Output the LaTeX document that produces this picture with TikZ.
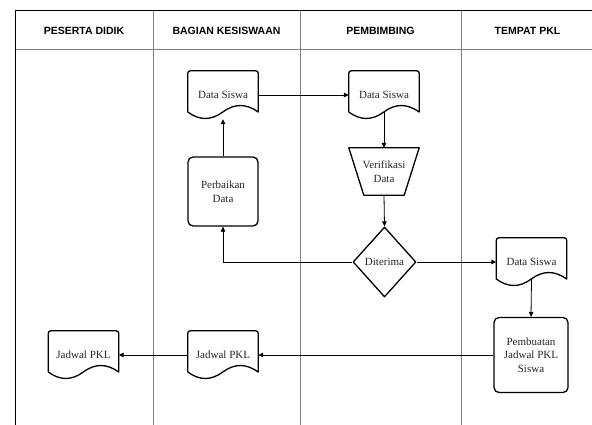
\documentclass[tikz,border=0pt]{standalone}
\usepackage{fontspec}
\setmainfont{Liberation Serif}
\newfontfamily\hdrfont{Liberation Sans}
\usetikzlibrary{arrows.meta,shapes.geometric,calc}

\newcommand\docoutline[1]{%
  \draw[shapeline] ($(#1.south west)+(0pt,7.2pt)$) [rounded corners=2.5pt] -- (#1.north west) -- (#1.north east) [sharp corners] -- ($(#1.south east)+(0pt,7.2pt)$)
   .. controls ($(#1.south west)+(58.33pt,15.84pt)$) and ($(#1.south west)+(46.67pt,15.84pt)$) .. ($(#1.south west)+(35pt,7.2pt)$)
   .. controls ($(#1.south west)+(23.33pt,-1.44pt)$) and ($(#1.south west)+(11.67pt,-1.44pt)$) .. ($(#1.south west)+(0pt,7.2pt)$) -- cycle;}

\begin{document}
\begin{tikzpicture}[x=1pt,y=-1pt,
  lane/.style={draw=black!50, line width=0.9pt},
  frame/.style={draw=black, line width=0.9pt},
  hdr/.style={font=\hdrfont\bfseries\fontsize{10.5}{12}\selectfont, inner sep=0pt},
  txt/.style={font=\fontsize{11}{13.7}\selectfont, align=center, text=black!85},
  docnode/.style={txt, minimum width=70pt, minimum height=48pt, inner sep=0pt},
  shapeline/.style={draw=black, line width=1.3pt, line join=round},
  procbox/.style={txt, shapeline, rounded corners=5pt, minimum width=70pt, inner sep=0pt},
  decision/.style={txt, diamond, shapeline, minimum width=63pt, minimum height=70pt, inner sep=0pt},
  arr/.style={draw=black, line width=0.8pt, -{Triangle[length=5pt,width=4.5pt]}}]

\useasboundingbox (0,0) rectangle (592,425);
\fill[white] (0,0) rectangle (592,425);

% swimlanes
\draw[lane] (153,10) -- (153,425);
\draw[lane] (300,10) -- (300,425);
\draw[lane] (461,10) -- (461,425);
\draw[lane] (15,49) -- (592,49);
\draw[frame] (15,425) -- (15,10) -- (592,10);

\node[hdr] (h1) at (84,30.5) {PESERTA DIDIK};
\node[hdr] (h2) at (226.5,30.5) {BAGIAN KESISWAAN};
\node[hdr] (h3) at (380.5,30.5) {PEMBIMBING};
\node[hdr] (h4) at (527.5,30.5) {TEMPAT PKL};

% shapes
\node[docnode] (ds1) at (223,95) {Data Siswa};
\docoutline{ds1}
\node[docnode] (ds2) at (384,95) {Data Siswa};
\docoutline{ds2}
\node[txt, minimum width=70pt, minimum height=47pt, inner sep=0pt] (ver) at (384,171.5) {Verifikasi\\Data};
\draw[shapeline] (ver.north west) -- (ver.north east) -- ([xshift=-15pt]ver.south east) -- ([xshift=15pt]ver.south west) -- cycle;
\node[procbox, minimum height=69pt] (perb) at (223,191.5) {Perbaikan\\Data};
\node[decision] (dia) at (384.5,262) {Diterima};
\node[docnode] (ds3) at (531.5,262) {Data Siswa};
\docoutline{ds3}
\node[procbox, minimum width=74pt, minimum height=75pt] (pemb) at (531,355) {Pembuatan\\Jadwal PKL\\Siswa};
\node[docnode] (jp1) at (223,355) {Jadwal PKL};
\docoutline{jp1}
\node[docnode] (jp2) at (83.5,355) {Jadwal PKL};
\docoutline{jp2}

% connectors
\draw[arr] (ds1.east) -- (ds2.west);
\draw[arr] ([yshift=7.2pt]ds2.south) -- (ver.north);
\draw[arr] (ver.south) -- (dia.north);
\draw[arr] (dia.west) -| (perb.south);
\draw[arr] (perb.north) -- (ds1.south);
\draw[arr] (dia.east) -- (ds3.west);
\draw[arr] ([yshift=7.2pt]ds3.south) -- (pemb.north);
\draw[arr] (pemb.west) -- (jp1.east);
\draw[arr] (jp1.west) -- (jp2.east);
\end{tikzpicture}
\end{document}
